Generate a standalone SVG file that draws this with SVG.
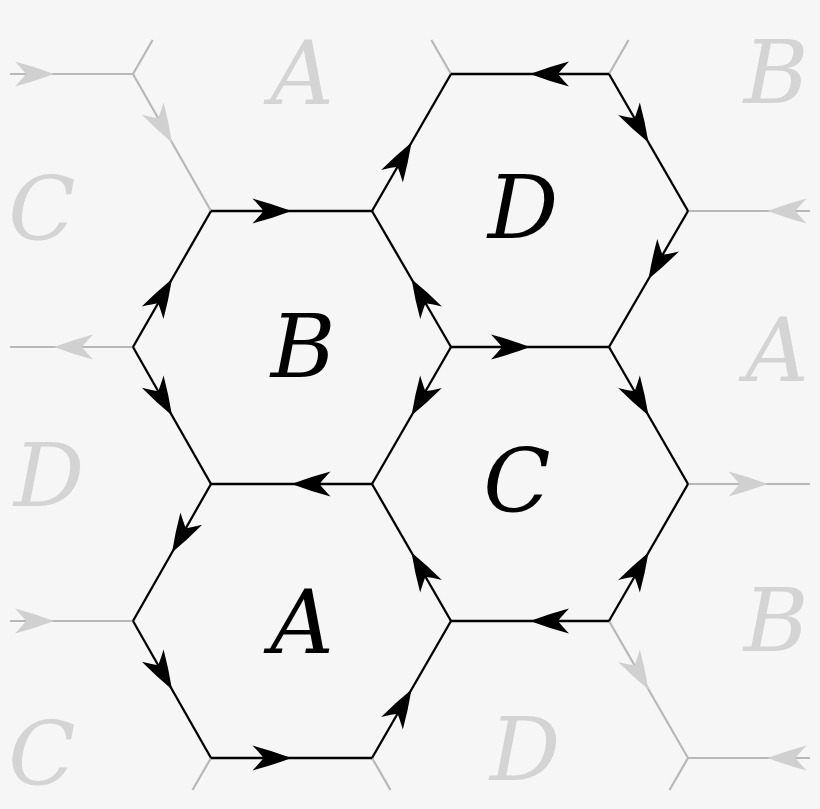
<svg xmlns="http://www.w3.org/2000/svg" width="820" height="809" viewBox="0 0 820 809">
<style>
  .e{stroke:#000;stroke-width:2.3;fill:none;stroke-linejoin:round}
  .ea{marker-mid:url(#ab)}
  .g{stroke:#b8b8b8;stroke-width:2.2;fill:none}
  .ga{marker-mid:url(#ag)}
  text{font-family:"DejaVu Serif",serif;font-size:88px;font-style:italic;text-anchor:middle}
  .lb{fill:#000}
  .lg{fill:#d4d4d4}
</style>
<defs>
  <marker id="ab" markerUnits="userSpaceOnUse" viewBox="-42 -14 44 28" markerWidth="44" markerHeight="28" refX="0" refY="0" orient="auto" overflow="visible">
    <path d="M0,0 Q-20,-7.5 -39,-12.5 Q-31,-4 -28,0 Q-31,4 -39,12.5 Q-20,7.5 0,0Z" fill="#000"/>
  </marker>
  <marker id="ag" markerUnits="userSpaceOnUse" viewBox="-42 -14 44 28" markerWidth="44" markerHeight="28" refX="0" refY="0" orient="auto" overflow="visible">
    <path d="M0,0 Q-20,-7.5 -39,-12.5 Q-31,-4 -28,0 Q-31,4 -39,12.5 Q-20,7.5 0,0Z" fill="#d0d0d0"/>
  </marker>
</defs>
<rect x="0" y="0" width="820" height="809" fill="#f6f6f6"/>

<g id="connectors">
  <g id="ghost-edges">
    <path class="g ga" d="M10,74 L54,74 L133,74"/>
    <path class="g ga" d="M133,74 L172,142.5 L211,211"/>
    <path class="g" d="M133,74 L152.6,40"/>
    <path class="g" d="M451,74 L431.4,40"/>
    <path class="g" d="M609,74 L628.6,40"/>
    <path class="g ga" d="M810,211 L767.5,211 L688,211"/>
    <path class="g ga" d="M133,347 L54,347 L10,347"/>
    <path class="g ga" d="M688,484 L767.5,484 L810,484"/>
    <path class="g ga" d="M10,621 L54,621 L133,621"/>
    <path class="g ga" d="M609,621 L648.5,689.5 L688,758"/>
    <path class="g ga" d="M810,758 L767.5,758 L688,758"/>
    <path class="g" d="M688,758 L669.5,790"/>
    <path class="g" d="M372,758 L390.5,790"/>
    <path class="g" d="M211,758 L192.5,790"/>
  </g>
  <g id="edges">
    <path class="e ea" d="M211,211 L291.5,211 L372,211"/>
    <path class="e ea" d="M451,347 L411.5,279 L372,211"/>
    <path class="e ea" d="M451,347 L411.5,415.5 L372,484"/>
    <path class="e ea" d="M372,484 L291.5,484 L211,484"/>
    <path class="e ea" d="M133,347 L172,415.5 L211,484"/>
    <path class="e ea" d="M133,347 L172,279 L211,211"/>
    <path class="e ea" d="M372,211 L411.5,142.5 L451,74"/>
    <path class="e ea" d="M609,74 L530,74 L451,74"/>
    <path class="e ea" d="M609,74 L648.5,142.5 L688,211"/>
    <path class="e ea" d="M688,211 L648.5,279 L609,347"/>
    <path class="e ea" d="M451,347 L530,347 L609,347"/>
    <path class="e ea" d="M609,347 L648.5,415.5 L688,484"/>
    <path class="e ea" d="M609,621 L648.5,552.5 L688,484"/>
    <path class="e ea" d="M609,621 L530,621 L451,621"/>
    <path class="e ea" d="M451,621 L411.5,552.5 L372,484"/>
    <path class="e ea" d="M211,484 L172,552.5 L133,621"/>
    <path class="e ea" d="M133,621 L172,689.5 L211,758"/>
    <path class="e ea" d="M211,758 L291.5,758 L372,758"/>
    <path class="e ea" d="M372,758 L411.5,689.5 L451,621"/>
  </g>
</g>

<g id="hex-B"><text class="lb" x="303" y="377">B</text></g>
<g id="hex-D"><text class="lb" x="523" y="238">D</text></g>
<g id="hex-C"><text class="lb" x="517" y="512">C</text></g>
<g id="hex-A"><text class="lb" x="302" y="653">A</text></g>

<g id="ghost-A-top"><text class="lg" x="302" y="104">A</text></g>
<g id="ghost-B-topright"><text class="lg" x="776" y="103">B</text></g>
<g id="ghost-C-left"><text class="lg" x="42" y="240">C</text></g>
<g id="ghost-A-right"><text class="lg" x="777" y="381">A</text></g>
<g id="ghost-D-left"><text class="lg" x="49" y="506">D</text></g>
<g id="ghost-B-right"><text class="lg" x="776" y="651">B</text></g>
<g id="ghost-C-bottomleft"><text class="lg" x="42" y="785">C</text></g>
<g id="ghost-D-bottom"><text class="lg" x="525" y="780">D</text></g>
</svg>
